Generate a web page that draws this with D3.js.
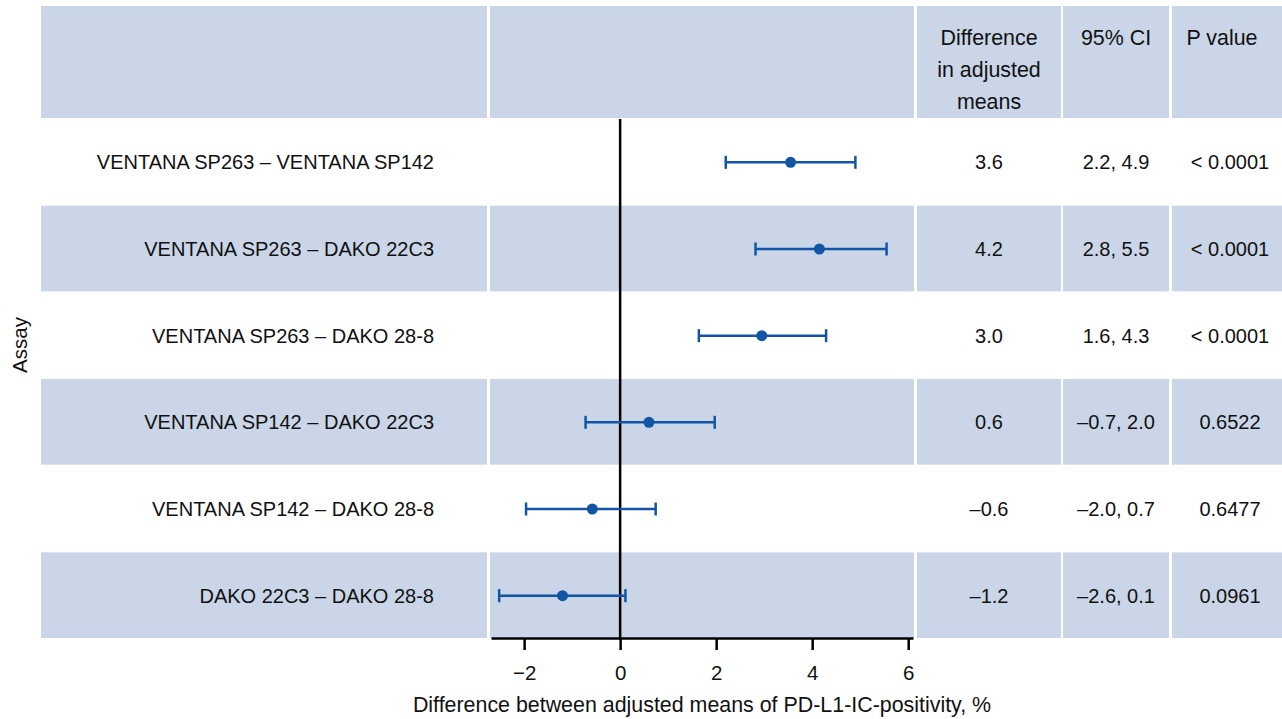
<!DOCTYPE html>
<html>
<head>
<meta charset="utf-8">
<script src="https://cdn.jsdelivr.net/npm/d3@7"></script>
<style>
    body { margin: 0; background: #fff; }
    svg { font-family: "Liberation Sans", Arial, sans-serif; }
    .cell-text { font-size: 20px; fill: #111; }
    .big-text { font-size: 21.4px; fill: #111; }
</style>
</head>
<body>
<svg id="chart"></svg>
<script>
// chart values
const assays = [
    'VENTANA SP263 – VENTANA SP142',
    'VENTANA SP263 – DAKO 22C3',
    'VENTANA SP263 – DAKO 28-8',
    'VENTANA SP142 – DAKO 22C3',
    'VENTANA SP142 – DAKO 28-8',
    'DAKO 22C3 – DAKO 28-8'
]
const estimates = [3.55, 4.15, 2.95, 0.6, -0.58, -1.2]
const ciLower = [2.2, 2.82, 1.64, -0.72, -1.96, -2.52]
const ciUpper = [4.9, 5.55, 4.29, 1.97, 0.74, 0.11]
const diffLabels = ['3.6', '4.2', '3.0', '0.6', '–0.6', '–1.2']
const ciLabels = ['2.2, 4.9', '2.8, 5.5', '1.6, 4.3', '–0.7, 2.0', '–2.0, 0.7', '–2.6, 0.1']
const pLabels = ['< 0.0001', '< 0.0001', '< 0.0001', '0.6522', '0.6477', '0.0961']
const xTicks = [-2, 0, 2, 4, 6]
const diffHeader = ['Difference', 'in adjusted', 'means']
const ciHeader = ['95% CI']
const pHeader = ['P value']

class ForestPlot {
    constructor(_config) {
        this.config = {
            parentElement: _config.parentElement,
            containerWidth: 1282,
            containerHeight: 719,
        }
        this.shade = '#cad5e7'
        this.blue = '#1255a5'
        // column extents [x0, x1]
        this.cols = {
            label: [41, 487],
            plot: [490, 914],
            diff: [917, 1061],
            ci: [1063, 1169],
            p: [1172, 1282]
        }
        this.headerTop = 6
        this.rowsTop = 119
        this.rowsBottom = 639
        this.initVis()
    }

    initVis() {
        let vis = this

        vis.svg = d3.select(vis.config.parentElement)
            .attr('width', vis.config.containerWidth)
            .attr('height', vis.config.containerHeight)

        vis.xScale = d3.scaleLinear()
            .domain([-2.69, 6.1])
            .range([491, 913])

        vis.yScale = d3.scaleBand()
            .domain(assays.map((d, i) => i))
            .range([vis.rowsTop, vis.rowsBottom])

        vis.renderBands()
        vis.renderHeader()
        vis.renderRows()
        vis.renderXAxis()
        vis.renderVis()
    }

    // shaded header and alternate rows, split per column
    renderBands() {
        let vis = this
        const colKeys = Object.keys(vis.cols)
        const bands = [{y0: vis.headerTop, y1: vis.rowsTop}]
        assays.forEach((d, i) => {
            if (i % 2 === 1) {
                bands.push({y0: vis.yScale(i), y1: vis.yScale(i) + vis.yScale.bandwidth()})
            }
        })
        const cells = []
        bands.forEach(b => colKeys.forEach(k => cells.push({b: b, c: vis.cols[k]})))

        vis.svg.append('g')
            .selectAll('rect')
            .data(cells)
            .join('rect')
            .attr('x', d => d.c[0])
            .attr('width', d => d.c[1] - d.c[0])
            .attr('y', d => d.b.y0)
            .attr('height', d => d.b.y1 - d.b.y0 - 1)
            .attr('fill', vis.shade)
    }

    renderHeader() {
        let vis = this
        const mid = k => (vis.cols[k][0] + vis.cols[k][1]) / 2
        const groups = [
            {key: 'diff', lines: diffHeader},
            {key: 'ci', lines: ciHeader},
            {key: 'p', lines: pHeader, shift: -5}
        ]
        groups.forEach(g => {
            vis.svg.append('g')
                .selectAll('text')
                .data(g.lines)
                .join('text')
                .attr('class', 'big-text')
                .attr('x', mid(g.key) + (g.shift || 0))
                .attr('y', (d, i) => 38 + i * 32)
                .attr('dy', '0.35em')
                .style('text-anchor', 'middle')
                .text(d => d)
        })
    }

    renderRows() {
        let vis = this
        const yMid = i => vis.yScale(i) + vis.yScale.bandwidth() / 2
        const mid = k => (vis.cols[k][0] + vis.cols[k][1]) / 2

        vis.svg.append('g')
            .selectAll('text')
            .data(assays)
            .join('text')
            .attr('class', 'cell-text')
            .attr('x', 434)
            .attr('y', (d, i) => yMid(i))
            .attr('dy', '0.35em')
            .style('text-anchor', 'end')
            .text(d => d)

        const columns = [
            {key: 'diff', labels: diffLabels},
            {key: 'ci', labels: ciLabels},
            {key: 'p', labels: pLabels, shift: 3}
        ]
        columns.forEach(col => {
            vis.svg.append('g')
                .selectAll('text')
                .data(col.labels)
                .join('text')
                .attr('class', 'cell-text')
                .attr('x', mid(col.key) + (col.shift || 0))
                .attr('y', (d, i) => yMid(i))
                .attr('dy', '0.35em')
                .style('text-anchor', 'middle')
                .text(d => d)
        })

        vis.svg.append('text')
            .attr('class', 'cell-text')
            .style('font-size', '20.5px')
            .attr('transform', 'translate(20, 345) rotate(-90)')
            .attr('dy', '0.35em')
            .style('text-anchor', 'middle')
            .text('Assay')
    }

    renderXAxis() {
        let vis = this

        vis.xAxis = d3.axisBottom(vis.xScale)
            .tickValues(xTicks)
            .tickSize(12)
            .tickSizeOuter(0)
            .tickPadding(15)

        vis.xAxisG = vis.svg.append('g')
            .attr('class', 'x_axis')
            .attr('transform', `translate(0, ${vis.rowsBottom - 1})`)
            .call(vis.xAxis)

        vis.xAxisG.select('.domain').attr('stroke-width', 2.5)
        vis.xAxisG.selectAll('.tick line').attr('stroke-width', 2.5)
        vis.xAxisG.selectAll('.tick text')
            .attr('font-size', 20.5)
            .attr('font-family', '"Liberation Sans", Arial, sans-serif')
            .attr('fill', '#111')

        vis.svg.append('text')
            .attr('class', 'big-text')
            .attr('x', 702)
            .attr('y', 705)
            .attr('dy', '0.35em')
            .style('text-anchor', 'middle')
            .text('Difference between adjusted means of PD-L1-IC-positivity, %')

        // reference line at zero
        vis.svg.append('line')
            .attr('x1', vis.xScale(0))
            .attr('x2', vis.xScale(0))
            .attr('y1', vis.rowsTop)
            .attr('y2', vis.rowsBottom - 1)
            .attr('stroke', '#000')
            .attr('stroke-width', 2.5)
    }

    // confidence intervals and point estimates
    renderVis() {
        let vis = this
        const yMid = i => vis.yScale(i) + vis.yScale.bandwidth() / 2
        const capHalf = 6.5

        const g = vis.svg.append('g')
            .attr('stroke', vis.blue)
            .attr('stroke-width', 2.5)

        g.selectAll('.ci')
            .data(assays)
            .join('line')
            .attr('class', 'ci')
            .attr('x1', (d, i) => vis.xScale(ciLower[i]))
            .attr('x2', (d, i) => vis.xScale(ciUpper[i]))
            .attr('y1', (d, i) => yMid(i))
            .attr('y2', (d, i) => yMid(i))

        g.selectAll('.cap-lo')
            .data(assays)
            .join('line')
            .attr('class', 'cap-lo')
            .attr('x1', (d, i) => vis.xScale(ciLower[i]))
            .attr('x2', (d, i) => vis.xScale(ciLower[i]))
            .attr('y1', (d, i) => yMid(i) - capHalf)
            .attr('y2', (d, i) => yMid(i) + capHalf)

        g.selectAll('.cap-hi')
            .data(assays)
            .join('line')
            .attr('class', 'cap-hi')
            .attr('x1', (d, i) => vis.xScale(ciUpper[i]))
            .attr('x2', (d, i) => vis.xScale(ciUpper[i]))
            .attr('y1', (d, i) => yMid(i) - capHalf)
            .attr('y2', (d, i) => yMid(i) + capHalf)

        vis.svg.append('g')
            .selectAll('.point')
            .data(estimates)
            .join('circle')
            .attr('class', 'point')
            .attr('cx', d => vis.xScale(d))
            .attr('cy', (d, i) => yMid(i))
            .attr('r', 5.5)
            .attr('fill', vis.blue)
    }
}

new ForestPlot({parentElement: '#chart'})
</script>
</body>
</html>
